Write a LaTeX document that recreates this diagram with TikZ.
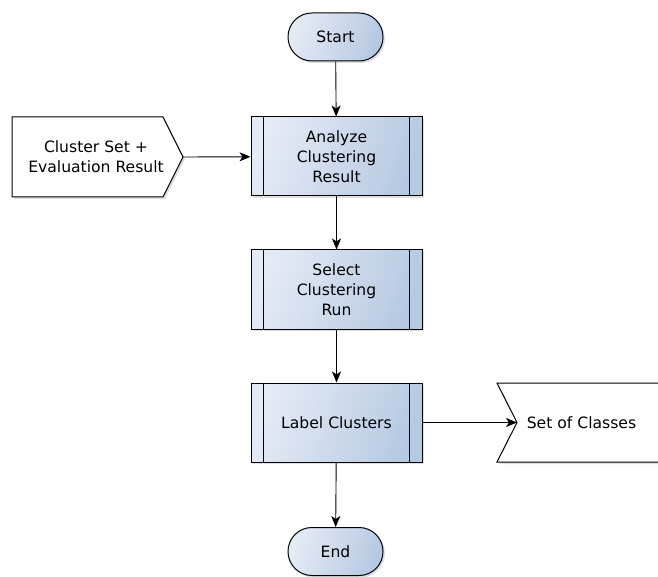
\documentclass[tikz,border=0pt]{standalone}
\usepackage{fontspec}
\setmainfont{DejaVu Sans}
\usetikzlibrary{arrows.meta,shadows}
\definecolor{gl}{RGB}{229,235,245}
\definecolor{gd}{RGB}{182,201,227}
\tikzset{
  x=1pt, y=-1pt,
  txt/.style={font=\fontsize{15.6}{20}\selectfont, align=center, inner sep=0pt},
  shad/.style={drop shadow={opacity=0.25, shadow xshift=2pt, shadow yshift=-2pt}},
  grad/.style={left color=gl, right color=gd, shading angle=70},
  proc/.style={txt, draw=black, line width=1pt, grad, shad, minimum width=171pt, minimum height=79pt},
  term/.style={txt, draw=black, line width=1pt, grad, shad, minimum width=95pt, minimum height=48pt, rounded corners=23.9pt},
  conn/.style={line width=0.9pt, -{Stealth[length=11pt,width=9pt,inset=3pt]}},
}
\begin{document}
\begin{tikzpicture}
\useasboundingbox (0,0) rectangle (658,577);
\clip (0,0) rectangle (658,577);
% terminals
\node[term] (start) at (335.5,37) {Start};
\node[term] (end) at (335.5,551.5) {End};
% processes
\node[proc] (analyze) at (336.5,156.5) {Analyze\\Clustering\\Result};
\node[proc] (select) at (336.5,289.5) {Select\\Clustering\\Run};
\node[proc] (label) at (336.5,422.5) {Label Clusters};
\foreach \n in {analyze,select,label}{
  \draw[line width=1pt] ([xshift=13pt]\n.north west) -- ([xshift=13pt]\n.south west);
  \draw[line width=1pt] ([xshift=-13pt]\n.north east) -- ([xshift=-13pt]\n.south east);
}
% input shape
\draw[line width=1pt, fill=white, shad] (12,117) -- (163,117) -- (183,157) -- (163,197) -- (12,197) -- cycle;
\coordinate (intip) at (183,157);
\node[txt] (input) at (96,157) {Cluster Set +\\Evaluation Result};
% output shape
\draw[line width=1pt, fill=white, shad] (497,383) -- (670,383) -- (670,462) -- (497,462) -- (517,422.5) -- cycle;
\coordinate (outtip) at (517,422.5);
\node[txt] (output) at (581.5,423) {Set of Classes};
% connectors
\draw[conn] (start) -- (analyze);
\draw[conn] (intip) -- (analyze);
\draw[conn] (analyze) -- (select);
\draw[conn] (select) -- (label);
\draw[conn] (label) -- (outtip);
\draw[conn] (label) -- (end);
\end{tikzpicture}
\end{document}
